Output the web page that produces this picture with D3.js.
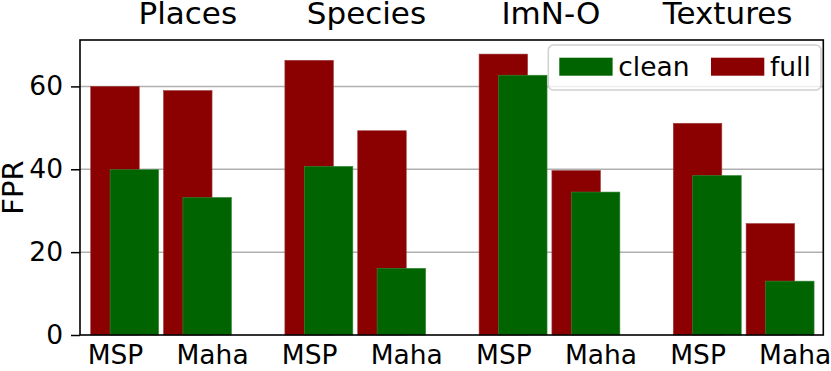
<!DOCTYPE html>
<html>
<head>
<meta charset="utf-8">
<script src="https://cdn.jsdelivr.net/npm/d3@7"></script>
<style>
  html, body { margin: 0; padding: 0; background: #ffffff; }
  svg { display: block; font-family: "DejaVu Sans", sans-serif; }
</style>
</head>
<body>
<svg id="chart" width="831" height="371"></svg>
<script>
// ---- data ----
const groups = ["Places", "Species", "ImN-O", "Textures"];
const methods = ["MSP", "Maha"];
const fullValues = [60.0, 59.0, 66.3, 49.3, 67.8, 39.7, 51.1, 26.9];
const cleanValues = [39.9, 33.2, 40.7, 16.1, 62.7, 34.5, 38.5, 13.0];
const yTicks = [0, 20, 40, 60];
const titlePositions = [0.75, 2.59, 4.49, 6.31];
const seriesNames = ["clean", "full"];

// ---- layout ----
const svg = d3.select("#chart");
const margin = { left: 80, right: 831 - 823.3, top: 40, bottom: 371 - 335 };
const W = 831, H = 371;
const x = d3.scaleLinear().domain([-0.36, 7.295]).range([margin.left, W - margin.right]);
const y = d3.scaleLinear().domain([0, 71.2]).range([H - margin.bottom, margin.top]);
const barW = 0.5, cleanOffset = 0.2;
const colors = { full: "#8b0000", clean: "#006400" };

// rows
const rows = [];
groups.forEach((g, gi) => methods.forEach((m, mi) => {
  const i = gi * 2 + mi;
  rows.push({ g, m, barPos: 2 * gi + 0.75 * mi, tickPos: 2 * gi + mi, full: fullValues[i], clean: cleanValues[i] });
}));

// grid
svg.append("g").selectAll("line").data(yTicks.filter(t => t > 0)).join("line")
  .attr("x1", x.range()[0]).attr("x2", x.range()[1])
  .attr("y1", d => y(d)).attr("y2", d => y(d))
  .attr("stroke", "#b0b0b0").attr("stroke-width", 1.5);

// bars
const bars = svg.append("g");
bars.selectAll("rect.full").data(rows).join("rect").attr("class", "full")
  .attr("x", d => x(d.barPos - barW / 2)).attr("width", x(barW) - x(0))
  .attr("y", d => y(d.full)).attr("height", d => y(0) - y(d.full))
  .attr("fill", colors.full).attr("stroke", "#a04040").attr("stroke-width", 0.6);
bars.selectAll("rect.clean").data(rows).join("rect").attr("class", "clean")
  .attr("x", d => x(d.barPos + cleanOffset - barW / 2)).attr("width", x(barW) - x(0))
  .attr("y", d => y(d.clean)).attr("height", d => y(0) - y(d.clean))
  .attr("fill", colors.clean).attr("stroke", "#3a8a3a").attr("stroke-width", 0.6);

// y axis
const yAxis = d3.axisLeft(y).tickValues(yTicks).tickSize(9).tickPadding(8).tickFormat(d3.format("d"));
const gy = svg.append("g").attr("transform", `translate(${margin.left},0)`).call(yAxis);
gy.select(".domain").remove();
gy.selectAll("line").attr("stroke", "#000").attr("stroke-width", 1.5);
gy.selectAll("text").attr("font-size", 26.5).attr("fill", "#000").attr("font-family", "DejaVu Sans");

// x axis (labels only)
const xAxis = d3.axisBottom(x).tickValues(rows.map(r => r.tickPos)).tickSize(0).tickPadding(10)
  .tickFormat((d, i) => rows[i].m);
const gx = svg.append("g").attr("transform", `translate(0,${y(0)})`).call(xAxis);
gx.select(".domain").remove();
gx.selectAll("text").attr("font-size", 26.5).attr("fill", "#000").attr("font-family", "DejaVu Sans");

// frame
svg.append("rect")
  .attr("x", x.range()[0]).attr("y", y.range()[1])
  .attr("width", x.range()[1] - x.range()[0]).attr("height", y.range()[0] - y.range()[1])
  .attr("fill", "none").attr("stroke", "#000").attr("stroke-width", 1.6);

// group titles
svg.append("g").selectAll("text").data(groups).join("text")
  .attr("x", (d, i) => x(titlePositions[i])).attr("y", 24)
  .attr("text-anchor", "middle").attr("font-size", 31).attr("fill", "#000")
  .text(d => d);

// y label
svg.append("text")
  .attr("transform", `translate(22.7,${(y.range()[0] + y.range()[1]) / 2}) rotate(-90)`)
  .attr("text-anchor", "middle").attr("font-size", 29).attr("fill", "#000")
  .text("FPR");

// legend
const leg = svg.append("g");
leg.append("rect").attr("x", 548.3).attr("y", 45).attr("width", 272.7).attr("height", 45)
  .attr("rx", 5).attr("fill", "rgba(255,255,255,0.8)").attr("stroke", "#d0d0d0").attr("stroke-width", 1.5);
const legendItems = [
  { name: seriesNames[0], color: colors.clean, px: 559.3 },
  { name: seriesNames[1], color: colors.full, px: 711 }
];
legendItems.forEach(it => {
  leg.append("rect").attr("x", it.px).attr("y", 57.7).attr("width", 53.3).attr("height", 18).attr("fill", it.color);
  leg.append("text").attr("x", it.px + 59).attr("y", 76).attr("font-size", 26.5).attr("fill", "#000").text(it.name);
});
</script>
</body>
</html>
